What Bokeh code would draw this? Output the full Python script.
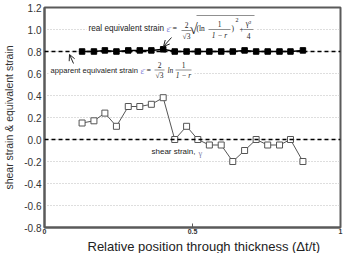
from bokeh.plotting import figure
from bokeh.models import (Span, Label, Arrow, OpenHead, FixedTicker, PrintfTickFormatter,
                          BoxAnnotation, Range1d, Title)
from bokeh.embed import file_html
from bokeh.resources import INLINE

# ---- data ----
positions = [0.127, 0.167, 0.204, 0.243, 0.283, 0.322, 0.361, 0.401, 0.440, 0.480,
             0.518, 0.557, 0.597, 0.636, 0.676, 0.715, 0.754, 0.794, 0.831, 0.873]
equiv_strain = [0.80, 0.80, 0.81, 0.80, 0.81, 0.81, 0.81, 0.82, 0.80, 0.80,
                0.80, 0.80, 0.80, 0.80, 0.81, 0.80, 0.80, 0.80, 0.80, 0.81]
shear_strain = [0.15, 0.17, 0.24, 0.12, 0.30, 0.30, 0.32, 0.38, 0.00, 0.12,
                0.00, -0.05, -0.05, -0.20, -0.10, 0.00, -0.05, -0.05, 0.00, -0.20]
apparent_level = 0.8
zero_level = 0.0
y_ticks = [-0.8, -0.6, -0.4, -0.2, 0.0, 0.2, 0.4, 0.6, 0.8, 1.0, 1.2]
x_ticks = [0, 0.5, 1]

SANS = "Liberation Sans"
SERIF = "Liberation Serif"
BLUE = "#7f7fd8"
FRAME = "#5a5a5a"

p = figure(width=345, height=253, output_backend="svg", toolbar_location=None,
           x_range=Range1d(0, 1), y_range=Range1d(-0.8, 1.2),
           min_border_left=44, min_border_right=5, min_border_top=7, min_border_bottom=0)
p.outline_line_color = FRAME
p.outline_line_width = 2
p.background_fill_color = "white"
p.border_fill_color = "white"

# axes
p.yaxis.ticker = FixedTicker(ticks=y_ticks)
p.yaxis.formatter = PrintfTickFormatter(format="%.1f")
p.yaxis.major_tick_out = 0
p.yaxis.major_tick_in = 0
p.yaxis.minor_tick_out = 0
p.yaxis.minor_tick_in = 0
p.yaxis.axis_line_color = FRAME
p.yaxis.axis_line_width = 2
p.yaxis.major_label_text_font = SANS
p.yaxis.major_label_text_font_size = "10px"
p.yaxis.major_label_text_color = "#333333"
p.yaxis.major_label_standoff = 3
p.yaxis.axis_label = "shear strain & equivalent strain"
p.yaxis.axis_label_text_font = SANS
p.yaxis.axis_label_text_font_size = "10.5px"
p.yaxis.axis_label_text_font_style = "normal"
p.yaxis.axis_label_text_color = "#333333"
p.yaxis.axis_label_standoff = 6

p.xaxis.ticker = FixedTicker(ticks=x_ticks)
p.xaxis.major_label_overrides = {0: "0", 0.5: "0.5", 1: "1"}
p.xaxis.major_tick_out = 0
p.xaxis.major_tick_in = 4
p.xaxis.minor_tick_out = 0
p.xaxis.minor_tick_in = 0
p.xaxis.major_tick_line_color = FRAME
p.xaxis.axis_line_color = FRAME
p.xaxis.axis_line_width = 2
p.xaxis.major_label_text_font = SANS
p.xaxis.major_label_text_font_size = "7px"
p.xaxis.major_label_text_font_style = "bold"
p.xaxis.major_label_text_color = "#333333"
p.xaxis.major_label_standoff = 1

p.xgrid.visible = False
p.ygrid.grid_line_color = "#bdbdbd"
p.ygrid.grid_line_dash = "1 2"
p.ygrid.grid_line_width = 1

# x axis title, shifted right as in the reference
p.add_layout(Title(text="Relative position through thickness (Δt/t)", align="left",
                   offset=43, text_font=SANS, text_font_size="13px",
                   text_font_style="normal", text_color="#222222", standoff=0), "below")


def dx(px):
    return (px - 44) / 296.0


def dy(py):
    return 1.2 - (py - 7) / 110.0


# reference dashed lines
p.add_layout(Span(location=apparent_level, dimension="width", line_color="black",
                  line_dash="4 3", line_width=1.5))
p.add_layout(Span(location=zero_level, dimension="width", line_color="black",
                  line_dash="4 3", line_width=1.5))

# series
p.line(positions, shear_strain, line_color="#555555", line_width=1)
p.scatter(positions, shear_strain, marker="square", size=6, fill_color="white",
          line_color="#555555", line_width=1)
p.line(positions, equiv_strain, line_color="black", line_width=1.5)
p.scatter(positions, equiv_strain, marker="square", size=5.5, fill_color="black",
          line_color="black")


def txt(text, px, py, size="7.5px", font=SANS, color="#222222", align="left",
        style="normal"):
    p.add_layout(Label(x=dx(px), y=dy(py), text=text, text_font=font, text_font_size=size,
                       text_color=color, text_align=align, text_baseline="middle",
                       text_font_style=style))


def bar(x0, x1, py):
    p.add_layout(BoxAnnotation(left=dx(x0), right=dx(x1), top=dy(py - 0.35),
                               bottom=dy(py + 0.35), fill_color="#222222", fill_alpha=1,
                               line_color=None))


# white backgrounds behind the formula labels
p.add_layout(BoxAnnotation(left=dx(86), right=dx(256), top=dy(12), bottom=dy(40),
                           fill_color="white", fill_alpha=1, line_color=None))
p.add_layout(BoxAnnotation(left=dx(48), right=dx(194), top=dy(58), bottom=dy(80),
                           fill_color="white", fill_alpha=1, line_color=None))

# real equivalent strain formula
txt("real equivalent strain", 88, 28, size="8.2px")
txt("ε\u0304", 166, 28, size="8.5px", font=SERIF, color=BLUE)
txt("=", 172, 28, size="8px", font=SERIF)
txt("2", 186, 24, size="7.5px", font=SERIF, align="center")
bar(181, 191, 30)
txt("√3", 186, 36, size="7.5px", font=SERIF, align="center")
txt("√", 189, 28, size="15px", font=SERIF)
bar(196, 254, 15)
txt("(ln", 196, 28, size="7.5px", font=SERIF)
txt("1", 219, 23, size="7.5px", font=SERIF, align="center")
bar(208, 230, 29)
txt("1 − r", 219, 35, size="7.5px", font=SERIF, align="center", style="italic")
txt(")", 231, 28, size="7.5px", font=SERIF)
txt("2", 235, 19, size="6px", font=SERIF)
txt("+", 239, 28, size="7.5px", font=SERIF)
txt("γ²", 248, 23, size="7.5px", font=SERIF, align="center")
bar(243, 253, 29)
txt("4", 248, 35, size="7.5px", font=SERIF, align="center")

# apparent equivalent strain formula
txt("apparent equivalent strain", 50, 70, size="7.6px")
txt("ε\u0304", 140, 70, size="8.5px", font=SERIF, color=BLUE)
txt("=", 146, 70, size="8px", font=SERIF)
txt("2", 159, 64, size="7.5px", font=SERIF, align="center")
bar(154, 164, 69.5)
txt("√3", 159, 75, size="7.5px", font=SERIF, align="center")
txt("ln", 167, 70, size="7.5px", font=SERIF, style="italic")
txt("1", 183, 64, size="7.5px", font=SERIF, align="center")
bar(175, 191, 69.5)
txt("1 − r", 183, 75, size="7.5px", font=SERIF, align="center", style="italic")

# shear strain label
txt("shear strain,", 151, 151, size="8px")
txt("γ", 198, 152, size="8.5px", font=SERIF, color="#7f7fa8")

# arrows
p.add_layout(Arrow(end=OpenHead(size=6, line_width=1, line_color="#222222"),
                   x_start=dx(171), y_start=dy(37), x_end=dx(163), y_end=dy(46),
                   line_width=1, line_color="#222222"))
p.add_layout(Arrow(end=OpenHead(size=6, line_width=1, line_color="#222222"),
                   x_start=dx(73), y_start=dy(63), x_end=dx(69), y_end=dy(54),
                   line_width=1, line_color="#222222"))

open("out.html", "w").write(file_html(p, INLINE))
